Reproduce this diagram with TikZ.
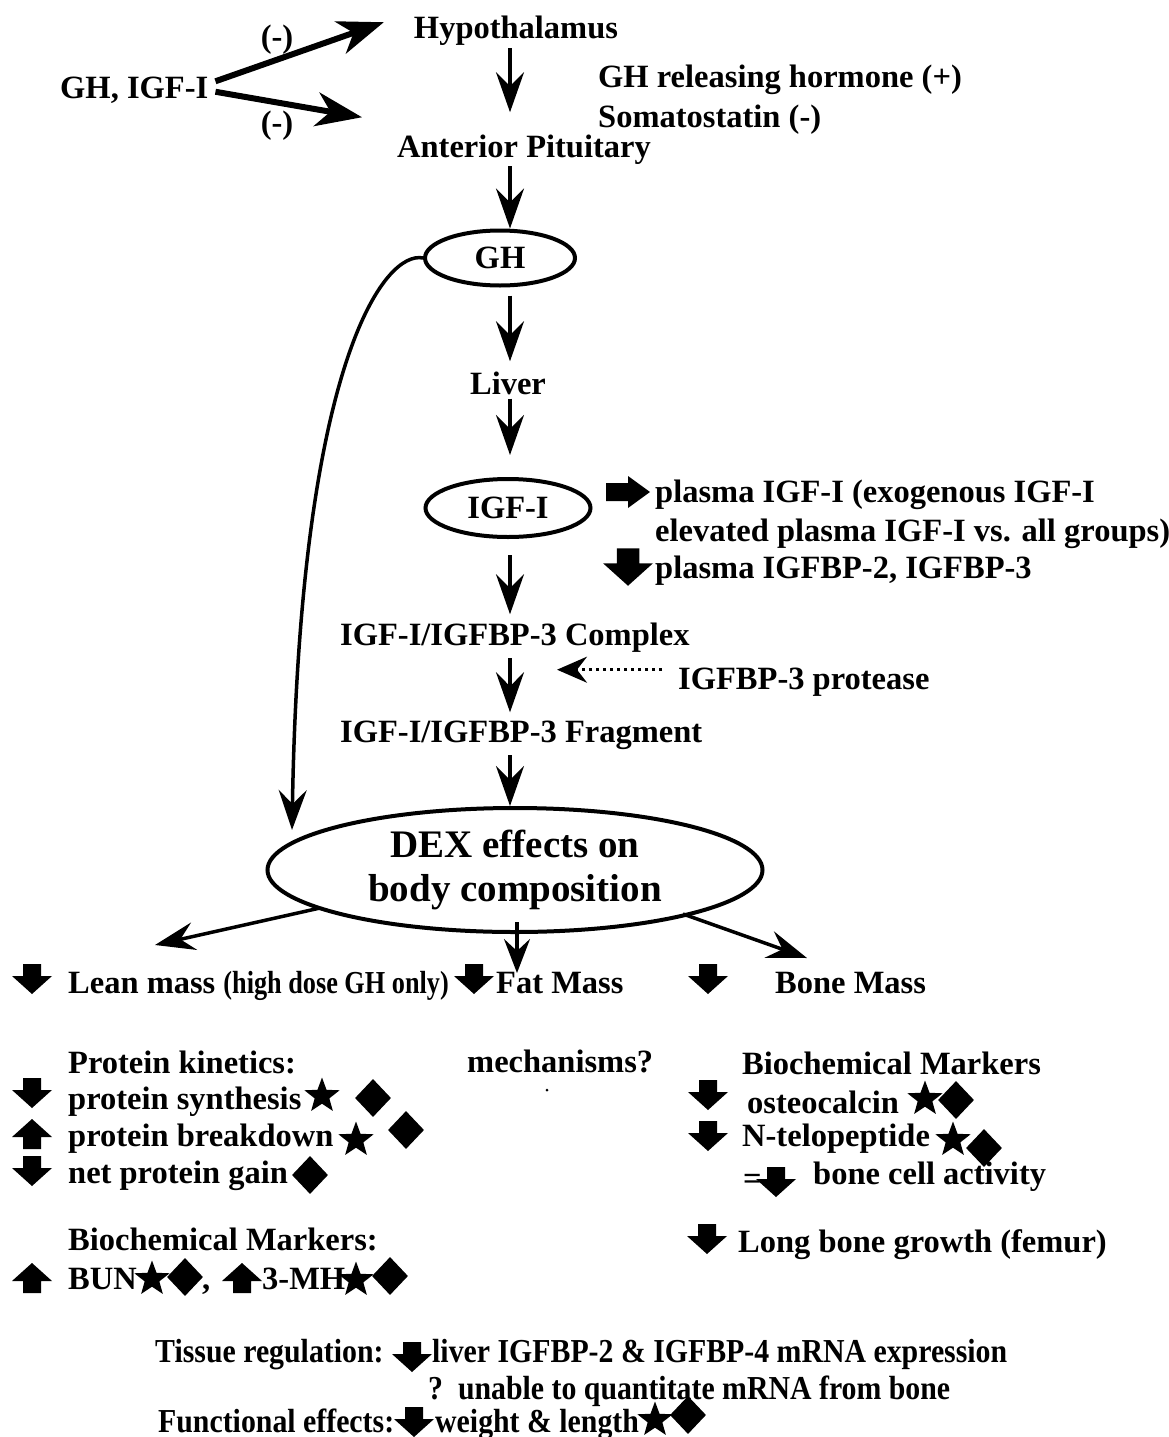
\documentclass[tikz,border=0pt]{standalone}
\usepackage{fontspec}
\setmainfont{Liberation Serif}
\newfontfamily\condfont{Liberation Serif}[FakeStretch=0.89]
\newfontfamily\narrowfont{Liberation Serif}[FakeStretch=0.82]
\usetikzlibrary{arrows.meta,shapes.geometric,calc}
\tikzset{
  txt/.style={inner sep=0pt, anchor=base west},
  ctxt/.style={inner sep=0pt, anchor=base},
  flow/.style={line width=3.5pt, -{Stealth[length=40pt,width=28pt,inset=14pt]}},
  bigflow/.style={line width=6pt, -{Stealth[length=46pt,width=34pt,inset=14pt]}},
  ell/.style={ellipse, draw, line width=4pt, inner sep=0pt},
  starm/.style={star, star points=5, star point ratio=2.4, fill, inner sep=0pt, minimum size=37pt},
  diam/.style={diamond, fill, inner sep=0pt, minimum width=36pt, minimum height=38pt},
  bottomtxt/.style={txt, font=\fontsize{33.5}{40}\selectfont\condfont\bfseries},
  pics/dnblk/.style={code={\fill (-9,-15) -- (9,-15) -- (9,-3) -- (20,-3) -- (0,15) -- (-20,-3) -- (-9,-3) -- cycle;}},
  pics/upblk/.style={code={\fill (-9,15) -- (9,15) -- (9,3) -- (20,3) -- (0,-15) -- (-20,3) -- (-9,3) -- cycle;}},
  pics/rtblk/.style={code={\fill (-22,-9) -- (0,-9) -- (0,-16) -- (22,0) -- (0,16) -- (0,9) -- (-22,9) -- cycle;}},
}
\begin{document}
\begin{tikzpicture}[x=1pt,y=-1pt,font=\fontsize{32.5}{38}\selectfont\bfseries]
\useasboundingbox[fill=white] (0,0) rectangle (1169,1437);
\coordinate (col) at (510,0);

% top part
\node[ctxt] (hyp) at (516,39) {Hypothalamus};
\node[txt] (ghr) at (598,87) {GH releasing hormone (+)};
\node[txt] (som) at (598,127) {Somatostatin (-)};
\node[ctxt] (ant) at (524,157) {Anterior Pituitary};
\node[txt] (ghigf) at (60,99) {GH, IGF-I};
\node[ctxt] (m1) at (277,48) {(-)};
\node[ctxt] (m2) at (277,133) {(-)};
\draw[bigflow] ($(ghigf.north east)+(7,4)$) -- ($(hyp.west)+(-30,-9)$);
\draw[bigflow] ($(ghigf.east)+(7,1)$) -- ($(ant.north west)+(-35,-17)$);
\draw[flow] ($(hyp.south -| col)+(0,2)$) -- ($(ant.north -| col)+(0,-22)$);

% GH
\node[ell, minimum width=150pt, minimum height=55pt] (gh) at (500,258) {GH};
\draw[flow] ($(ant.south -| col)+(0,2)$) -- (gh.north -| col);
\node[ctxt] (liver) at (508,394) {Liver};
\draw[flow] ($(gh.south -| col)+(0,8)$) -- ($(liver.north -| col)+(0,-10)$);
\node[ell, minimum width=165pt, minimum height=58pt] (igf) at (508,508) {IGF-I};
\draw[flow] ($(liver.south -| col)+(0,4)$) -- ($(igf.north -| col)+(0,-22)$);

% plasma notes
\pic at (628,492) {rtblk};
\node[txt] (pl1) at (655,502) {plasma IGF-I (exogenous IGF-I};
\node[txt] (pl2) at (655,541) {elevated plasma IGF-I vs. all groups)};
\pic[scale=1.25] at (628,567) {dnblk};
\node[txt] (pl3) at (655,578) {plasma IGFBP-2, IGFBP-3};

% complex / fragment
\node[txt] (cplx) at (340,645) {IGF-I/IGFBP-3 Complex};
\draw[flow] ($(igf.south -| col)+(0,16)$) -- ($(cplx.north -| col)+(0,-8)$);
\node[txt] (frag) at (340,742) {IGF-I/IGFBP-3 Fragment};
\draw[flow] ($(cplx.south -| col)+(0,6)$) -- ($(frag.north -| col)+(0,-8)$);
\node[txt] (prot) at (678,689) {IGFBP-3 protease};
\draw[line width=3pt, dash pattern=on 3pt off 4pt, -{Stealth[length=30pt,width=26pt,inset=10pt]}] ($(prot.west)+(-16,-12)$) -- ($(prot.west)+(-121,-12)$);

% DEX
\node[ell, minimum width=495pt, minimum height=124pt, align=center,
      font=\fontsize{39}{44}\selectfont\bfseries] (dex) at (515,870) {DEX effects on\\body composition};
\draw[flow] ($(frag.south -| col)+(0,6)$) -- (dex.north -| col);
\draw[flow] (gh.west) .. controls (385,250) and (300,360) .. (292,830);

\coordinate (leanTip) at (155,945);
\coordinate (fatTip) at (517,973);
\coordinate (boneTip) at (807,958);
\draw[flow] ($(dex.center)+(-195,38)$) -- (leanTip);
\draw[flow, -{Stealth[length=34pt,width=26pt,inset=12pt]}] ($(dex.south)+(2,-12)$) -- (fatTip);
\draw[flow] ($(dex.center)+(168,44)$) -- (boneTip);

% row of masses
\pic at (32,979) {dnblk};
\node[txt] (lean) at (68,993) {Lean mass {\narrowfont\bfseries\fontsize{32}{36}\selectfont (high dose GH only)}};
\pic at (474,979) {dnblk};
\node[txt] (fat) at (496,993) {Fat Mass};
\pic at (708,979) {dnblk};
\node[txt] (bone) at (775,993) {Bone Mass};

% protein kinetics
\node[txt] (pk) at (68,1073) {Protein kinetics:};
\pic at (32,1093) {dnblk};
\node[txt] (ps) at (68,1109) {protein synthesis};
\node[starm] (ps1) at (322,1096) {};
\node[diam] (ps2) at (373,1098) {};
\pic at (32,1134) {upblk};
\node[txt] (pb) at (68,1146) {protein breakdown};
\node[starm] (pb1) at (356,1140) {};
\node[diam] (pb2) at (406,1130) {};
\pic at (32,1171) {dnblk};
\node[txt] (ng) at (68,1183) {net protein gain};
\node[diam] (ng1) at (310,1175) {};

\node[txt] (mech) at (467,1072) {mechanisms?};
\fill (547,1090) circle (1.5);

% bone markers
\node[txt] (bm) at (742,1074) {Biochemical Markers};
\pic at (708,1095) {dnblk};
\node[txt] (oc) at (747,1113) {osteocalcin};
\node[starm] (oc1) at (925,1099) {};
\node[diam] (oc2) at (956,1100) {};
\pic at (708,1136) {dnblk};
\node[txt] (nt) at (742,1146) {N-telopeptide};
\node[starm] (nt1) at (953,1140) {};
\node[diam] (nt2) at (984,1148) {};
\node[txt] (eq) at (743,1189) {=};
\pic at (776,1182) {dnblk};
\node[txt] (bca) at (813,1184) {bone cell activity};
\pic at (707,1239) {dnblk};
\node[txt] (lbg) at (738,1252) {Long bone growth (femur)};

% biochemical markers left
\node[txt] (bml) at (68,1250) {Biochemical Markers:};
\pic at (32,1278) {upblk};
\node[txt] (bun) at (68,1289) {BUN};
\node[starm] (bun1) at (152,1279) {};
\node[diam] (bun2) at (185,1277) {};
\node[txt] (comma) at (202,1289) {,};
\pic at (242,1278) {upblk};
\node[txt] (mh) at (262,1289) {3-MH};
\node[starm] (mh1) at (356,1280) {};
\node[diam] (mh2) at (390,1276) {};

% bottom
\node[bottomtxt] (tr) at (155,1362) {Tissue regulation:};
\pic at (412,1357) {dnblk};
\node[bottomtxt] (liv) at (432,1362) {liver IGFBP-2 \& IGFBP-4 mRNA expression};
\node[bottomtxt] (un) at (428,1399) {?\ \ unable to quantitate mRNA from bone};
\node[bottomtxt] (fe) at (158,1432) {Functional effects:};
\pic at (414,1422) {dnblk};
\node[bottomtxt] (wl) at (435,1432) {weight \& length};
\node[starm] (wl1) at (655,1420) {};
\node[diam] (wl2) at (688,1415) {};
\end{tikzpicture}
\end{document}
